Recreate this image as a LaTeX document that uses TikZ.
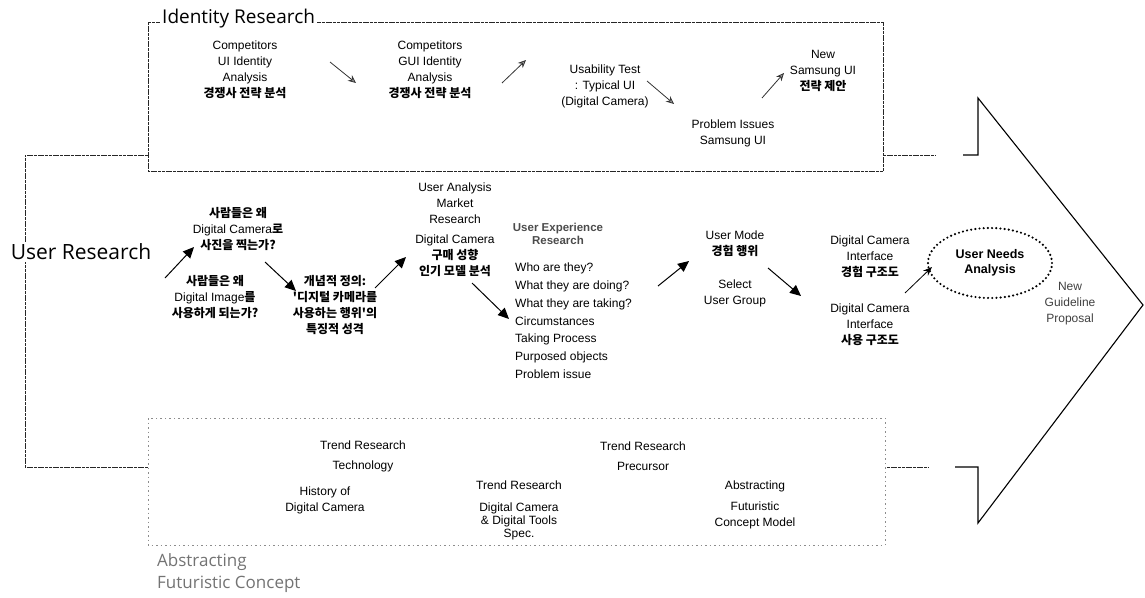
\documentclass[tikz,border=0pt]{standalone}
\usepackage{fontspec}
\setmainfont{Liberation Sans}
\newfontfamily\kr{Noto Sans CJK KR}
\newfontfamily\osans{Open Sans}
\usetikzlibrary{arrows.meta,shapes.geometric}
\newcommand{\K}[1]{{\kr\bfseries #1}}
\begin{document}
\begin{tikzpicture}[x=1pt,y=-1pt,
  txt/.style={align=center,font=\fontsize{12}{16}\selectfont,inner sep=0pt},
  lst/.style={align=left,font=\fontsize{12}{17.7}\selectfont,inner sep=0pt},
  boxline/.style={line width=0.9pt,draw=black!85,dash pattern=on 3pt off 0.7pt},
  faintline/.style={line width=0.7pt,draw=black!45,dash pattern=on 1.5pt off 3pt},
  arrt/.style={-{Stealth[length=8pt,width=7pt,fill=black!40]},line width=0.8pt,draw=black!80},
  arrm/.style={-{Triangle[length=11pt,width=10pt]},line width=1pt},
  title/.style={font=\osans\fontsize{19}{22}\selectfont,fill=white,inner sep=2pt}
]
\useasboundingbox (0,0) rectangle (1145,597);

% --- frames ---
\draw[boxline] (148,22) rectangle (883,171);
\draw[boxline] (148,155) -- (25,155) -- (25,467) -- (148,467);
\draw[faintline] (148,418) rectangle (885,545);
\draw[boxline] (883,155) -- (935,155);
\draw[boxline] (887,467) -- (928,467);
\draw[line width=1.1pt] (963,155) -- (978,155) -- (978,98) -- (1143,305) -- (978,523) -- (978,467) -- (955,467);

\node[title,anchor=west] (idr) at (160,19) {Identity Research};
\node[title,font=\osans\fontsize{21}{24}\selectfont] (usr) at (81,252) {User Research};
\node[anchor=north west,align=left,font=\osans\fontsize{17}{22}\selectfont,text=black!55,inner sep=0pt] (abs) at (157,553) {Abstracting\\Futuristic Concept};

% --- identity research row ---
\node[txt] (cui) at (245,70) {Competitors\\UI Identity\\Analysis\\\K{경쟁사 전략 분석}};
\node[txt] (cgui) at (430,70) {Competitors\\GUI Identity\\Analysis\\\K{경쟁사 전략 분석}};
\node[txt] (usab) at (605,86) {Usability Test\\: Typical UI\\(Digital Camera)};
\node[txt] (prob) at (733,133) {Problem Issues\\Samsung UI};
\node[txt] (news) at (823,71) {New\\Samsung UI\\\K{전략 제안}};

\coordinate (t1s) at (330,62); \coordinate (t1e) at (356,83);
\coordinate (t2s) at (502,83); \coordinate (t2e) at (526,60);
\coordinate (t3s) at (647,81); \coordinate (t3e) at (674,104);
\coordinate (t4s) at (762,98); \coordinate (t4e) at (784,73);
\draw[arrt] (t1s) -- (t1e);
\draw[arrt] (t2s) -- (t2e);
\draw[arrt] (t3s) -- (t3e);
\draw[arrt] (t4s) -- (t4e);

% --- user research row ---
\node[txt] (why1) at (238,229) {\K{사람들은 왜}\\Digital Camera\K{로}\\\K{사진을 찍는가?}};
\node[txt] (why2) at (215,297) {\K{사람들은 왜}\\Digital Image\K{를}\\\K{사용하게 되는가?}};
\node[txt] (def) at (335,305) {\K{개념적 정의:}\\\K{'디지털 카메라를}\\\K{사용하는 행위'의}\\\K{특징적 성격}};
\node[txt] (ua) at (455,230) {User Analysis\\Market\\Research\\[4pt]Digital Camera\\\K{구매 성향}\\\K{인기 모델 분석}};
\node[txt,font=\bfseries\fontsize{11.5}{13}\selectfont,text=black!70] (uxr) at (558,234) {User Experience\\Research};
\node[lst,anchor=north west] (qs) at (515,263) {Who are they?\\What they are doing?\\What they are taking?\\Circumstances\\Taking Process\\Purposed objects\\Problem issue};
\node[txt] (um) at (735,244) {User Mode\\\K{경험 행위}};
\node[txt] (sel) at (735,293) {Select\\User Group};
\node[txt] (dci1) at (870,257) {Digital Camera\\Interface\\\K{경험 구조도}};
\node[txt] (dci2) at (870,325) {Digital Camera\\Interface\\\K{사용 구조도}};
\node[ellipse,draw,line width=2.4pt,dash pattern=on 0pt off 4.2pt,line cap=round,minimum width=124pt,minimum height=70pt,align=center,font=\bfseries\fontsize{12.5}{15}\selectfont,inner sep=0pt] (una) at (990,263) {User Needs\\Analysis};
\node[txt,text=black!75] (ngp) at (1070,304) {New\\Guideline\\Proposal};

\coordinate (m1s) at (165,278); \coordinate (m1e) at (194,247);
\coordinate (m2s) at (265,262); \coordinate (m2e) at (296,291);
\coordinate (m3s) at (375,288); \coordinate (m3e) at (406,257);
\coordinate (m4s) at (472,283); \coordinate (m4e) at (509,319);
\coordinate (m5s) at (658,286); \coordinate (m5e) at (689,261);
\coordinate (m6s) at (768,268); \coordinate (m6e) at (801,296);
\coordinate (m7s) at (905,293); \coordinate (m7e) at (932,267);
\draw[arrm] (m1s) -- (m1e);
\draw[arrm] (m2s) -- (m2e);
\draw[arrm] (m3s) -- (m3e);
\draw[arrm] (m4s) -- (m4e);
\draw[arrm] (m5s) -- (m5e);
\draw[arrm] (m6s) -- (m6e);
\draw[-{Stealth[length=9pt,width=7pt]},line width=0.8pt] (m7s) -- (m7e);

% --- trend research ---
\node[txt] (trt) at (363,456) {Trend Research\\[4pt]Technology};
\node[txt] (trp) at (643,456) {Trend Research\\[4pt]Precursor};
\node[txt] (trd) at (519,485) {Trend Research};
\node[txt] (hist) at (325,500) {History of\\Digital Camera};
\node[txt,font=\fontsize{12}{13}\selectfont] (spec) at (519,521) {Digital Camera\\\& Digital Tools\\Spec.};
\node[txt] (absm) at (755,486) {Abstracting};
\node[txt] (fcm) at (755,515) {Futuristic\\Concept Model};
\end{tikzpicture}
\end{document}
